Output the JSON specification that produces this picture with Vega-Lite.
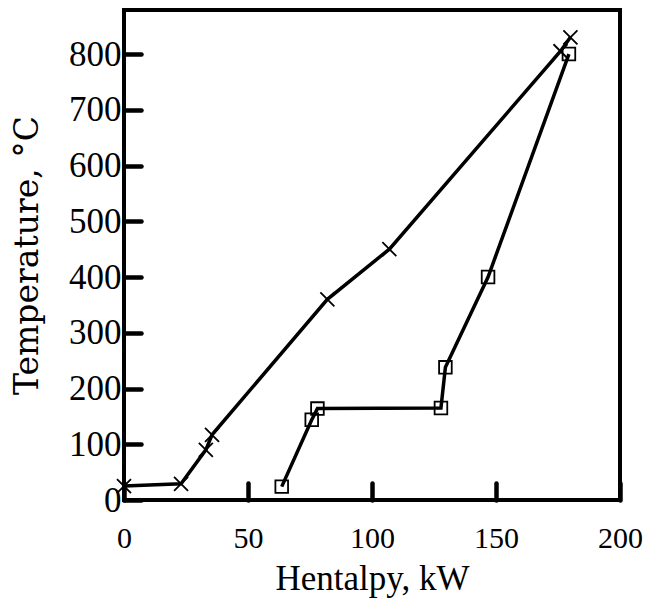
{
  "$schema": "https://vega.github.io/schema/vega-lite/v6.json",
  "autosize": "none",
  "width": 496,
  "height": 490,
  "padding": {"left": 124, "top": 10, "right": 31, "bottom": 105},
  "background": "white",
  "config": {
    "view": {"stroke": "black", "strokeWidth": 4},
    "font": "Liberation Serif",
    "axis": {
      "domain": false,
      "grid": false,
      "ticks": true,
      "zindex": 1,
      "tickColor": "black",
      "tickWidth": 4.5,
      "tickCap": "round",
      "tickSize": -17,
      "labelFont": "Liberation Serif",
      "labelColor": "black",
      "titleFontWeight": "normal",
      "titleColor": "black"
    }
  },
  "data": {
    "values": [
      {"series": "hot", "i": 1, "h": 0, "t": 25},
      {"series": "hot", "i": 2, "h": 23, "t": 29},
      {"series": "hot", "i": 3, "h": 33, "t": 90},
      {"series": "hot", "i": 4, "h": 35.5, "t": 117},
      {"series": "hot", "i": 5, "h": 82, "t": 360},
      {"series": "hot", "i": 6, "h": 107, "t": 450},
      {"series": "hot", "i": 7, "h": 176, "t": 805},
      {"series": "hot", "i": 8, "h": 180, "t": 830},
      {"series": "cold", "i": 1, "h": 63.6, "t": 24},
      {"series": "cold", "i": 2, "h": 75.7, "t": 144},
      {"series": "cold", "i": 3, "h": 78, "t": 164},
      {"series": "cold", "i": 4, "h": 127.8, "t": 165},
      {"series": "cold", "i": 5, "h": 129.6, "t": 238},
      {"series": "cold", "i": 6, "h": 146.8, "t": 400},
      {"series": "cold", "i": 7, "h": 179.4, "t": 800}
    ]
  },
  "encoding": {
    "x": {
      "field": "h", "type": "quantitative",
      "scale": {"domain": [0, 200], "nice": false, "zero": false},
      "axis": {"values": [0, 50, 100, 150, 200], "title": "Hentalpy, kW", "labelFontSize": 30, "labelPadding": 40, "titleFont": "Liberation Serif", "titleFontSize": 35, "titlePadding": 8, "labelFlush": false}
    },
    "y": {
      "field": "t", "type": "quantitative",
      "scale": {"domain": [0, 879], "nice": false, "zero": false},
      "axis": {"values": [0, 100, 200, 300, 400, 500, 600, 700, 800], "title": "Temperature, °C", "labelFontSize": 35, "labelPadding": 20, "titleFont": "DejaVu Serif", "titleFontSize": 33, "titlePadding": 24, "labelFlush": false}
    }
  },
  "layer": [
    {
      "mark": {"type": "line", "color": "black", "strokeWidth": 3.5},
      "encoding": {
        "detail": {"field": "series"},
        "order": {"field": "i", "type": "quantitative"}
      }
    },
    {
      "transform": [{"filter": "datum.series === 'hot'"}],
      "mark": {"type": "point", "shape": "M-1,-1L1,1M-1,1L1,-1", "size": 196, "filled": false, "color": "black", "strokeWidth": 1.8, "opacity": 1}
    },
    {
      "transform": [{"filter": "datum.series === 'cold'"}],
      "mark": {"type": "point", "shape": "square", "size": 160, "filled": false, "color": "black", "strokeWidth": 1.8, "opacity": 1}
    }
  ]
}
